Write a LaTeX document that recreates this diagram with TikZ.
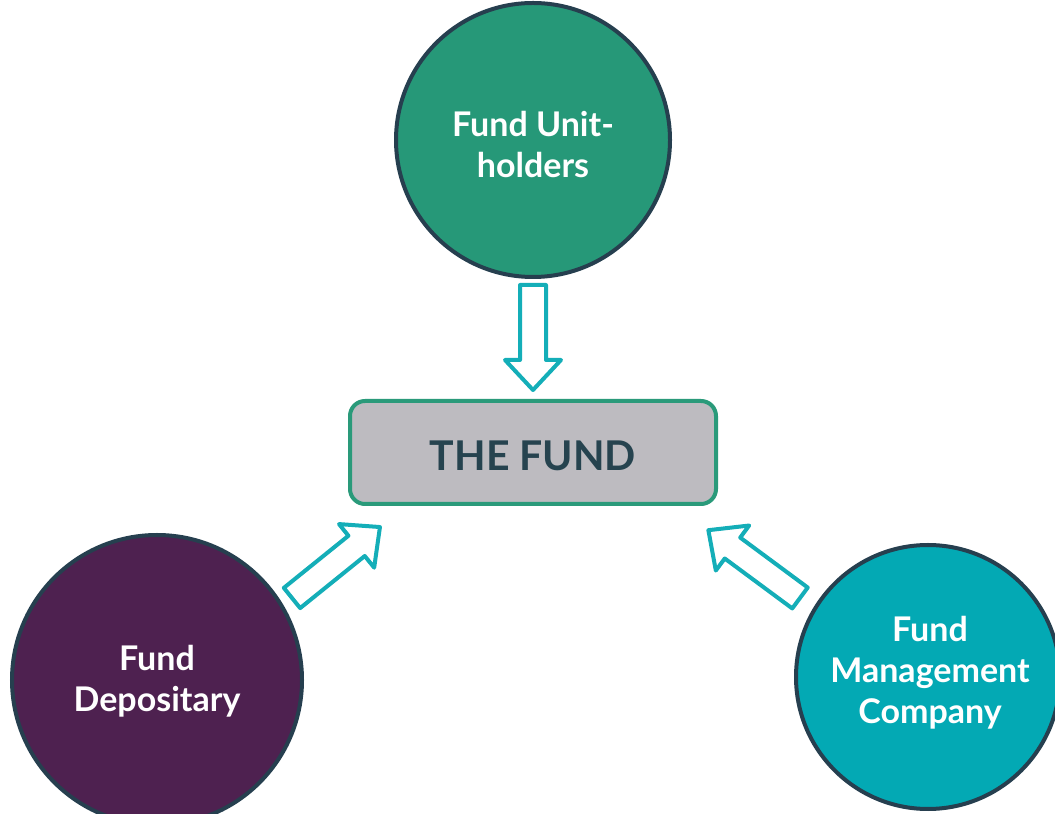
\documentclass[tikz,border=0pt]{standalone}
\usepackage{fontspec}
\setmainfont{Lato}
\definecolor{ringc}{HTML}{263F4F}
\definecolor{greenc}{HTML}{269878}
\definecolor{purplec}{HTML}{4E2150}
\definecolor{tealc}{HTML}{03A9B4}
\definecolor{arrowc}{HTML}{14AEB8}
\definecolor{boxfill}{HTML}{BDBBC0}
\definecolor{boxline}{HTML}{2A9A7A}
\definecolor{textdark}{HTML}{26434F}
\tikzset{
  party/.style={circle, draw=ringc, line width=4pt, inner sep=0pt, text=white,
    font=\bfseries\fontsize{34}{41}\selectfont, align=center},
  fundbox/.style={rectangle, rounded corners=15pt, draw=boxline, line width=4pt, fill=boxfill,
    minimum width=366pt, minimum height=103pt, text=textdark, text height=37pt, text depth=0pt,
    font=\bfseries\fontsize{41}{50}\selectfont},
  hollowarrow/.style={draw=arrowc, line width=4pt, fill=white, line join=round}
}
\newcommand{\hollowarrowpath}[1]{%
  \draw[hollowarrow] (0,-13) -- (#1-30,-13) -- (#1-30,-28) -- (#1,0) -- (#1-30,28) -- (#1-30,13) -- (0,13) -- cycle;}
\begin{document}
\begin{tikzpicture}[x=1pt,y=1pt]
\useasboundingbox (0,0) rectangle (1055,814);
\begin{scope}
\clip (0,0) rectangle (1055,814);
\node[party, fill=greenc, minimum size=274pt] (holders) at (533,674) {};
\node[party, fill=purplec, minimum size=290pt] (depositary) at (157,134) {};
\node[party, fill=tealc, minimum size=264pt] (manager) at (928,137) {};
\end{scope}
\node[party, draw=none, minimum size=0pt] (holderstext) at (533,669) {Fund Unit-\\holders};
\node[party, draw=none, minimum size=0pt] (depositarytext) at (157,133) {Fund\\Depositary};
\node[party, draw=none, minimum size=0pt] (managertext) at (930,141) {Fund\\Management\\Company};
\node[fundbox] (fund) at (533,361.5) {THE FUND};
\begin{scope}[shift={(533,529)}, rotate=-90]
\hollowarrowpath{105}
\end{scope}
\begin{scope}[shift={(292,216)}, rotate=38.9]
\hollowarrowpath{113}
\end{scope}
\begin{scope}[shift={(800,216)}, rotate=143.5]
\hollowarrowpath{114}
\end{scope}
\end{tikzpicture}
\end{document}
